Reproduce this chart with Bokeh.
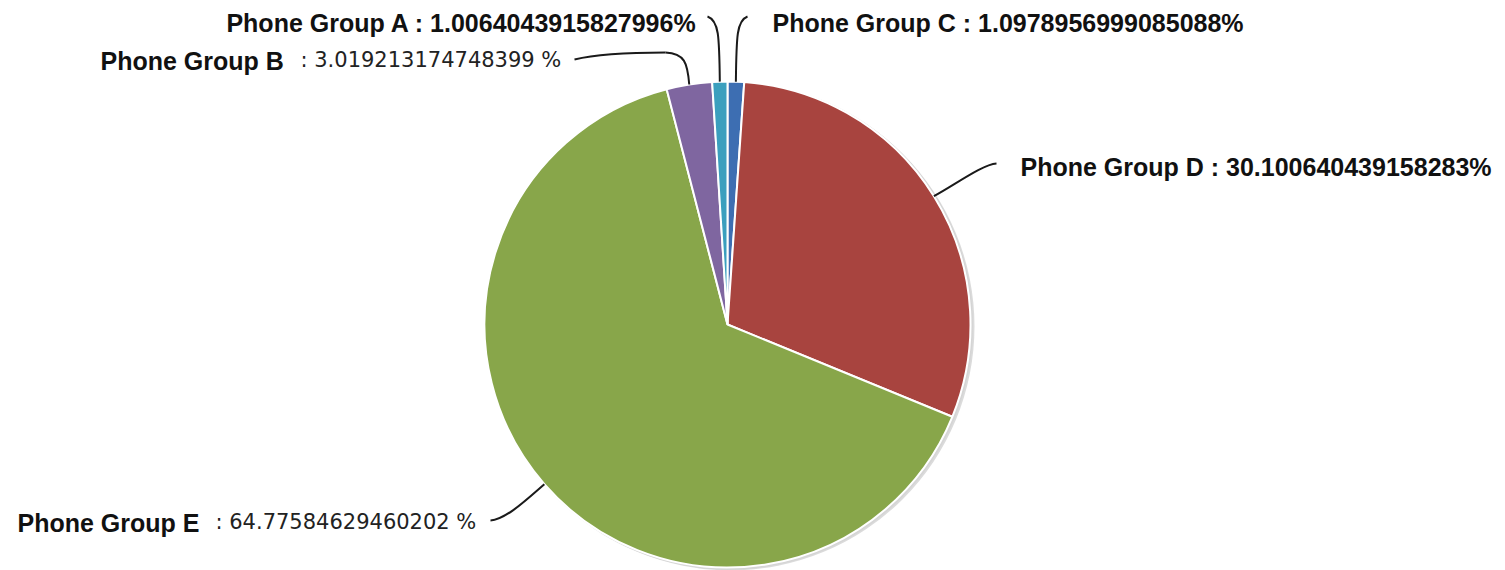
import math
from bokeh.plotting import figure
from bokeh.models import Range1d, ColumnDataSource
from bokeh.core.properties import value
from bokeh.embed import file_html
from bokeh.resources import INLINE

# ---- data (clockwise from 12 o'clock) ----
groups = ["Phone Group C", "Phone Group D", "Phone Group E", "Phone Group B", "Phone Group A"]
percents = [1.0978956999085088, 30.100640439158283, 64.77584629460202, 3.019213174748399, 1.0064043915827996]
colors = ["#3d6eb2", "#a8443f", "#88a64a", "#7f66a0", "#3b9fbe"]

W, H = 1505, 570
CX, CY, R = 727, H - 324, 243

p = figure(width=W, height=H, output_backend="svg", toolbar_location=None,
           x_range=Range1d(0, W), y_range=Range1d(0, H), min_border=0)
p.axis.visible = False
p.grid.visible = False
p.outline_line_color = None
p.background_fill_color = "white"

total = sum(percents)
starts, ends, mids = [], [], []
cum = 0.0
for v in percents:
    a0 = math.pi / 2 - cum / total * 2 * math.pi
    cum += v
    a1 = math.pi / 2 - cum / total * 2 * math.pi
    starts.append(a0)
    ends.append(a1)
    mids.append((a0 + a1) / 2)

src = ColumnDataSource(dict(group=groups, pct=percents, start=starts, end=ends, color=colors,
                            x=[CX] * len(groups), y=[CY] * len(groups)))

# soft shadow
p.circle(x=[CX + 3], y=[CY - 2], radius=R + 1, fill_color="#b0b0b0", fill_alpha=0.45, line_color=None)
p.circle(x=[CX + 1.5], y=[CY - 1], radius=R + 1, fill_color="#d0d0d0", fill_alpha=0.5, line_color=None)

p.wedge(x="x", y="y", radius=R, start_angle="start", end_angle="end", direction="clock",
        fill_color="color", line_color="white", line_width=2, source=src)

def edge(i):
    return CX + R * math.cos(mids[i]), CY + R * math.sin(mids[i])

def Y(y):
    return H - y

leaders = {}
# C (index 0)
x0, y0 = edge(0)
leaders[0] = [((x0, y0), (x0 + 0.5, Y(35)), (x0 + 1, Y(20)), (747, Y(16)))]
# D (index 1)
x0, y0 = edge(1)
leaders[1] = [((x0, y0), (955, Y(184)), (982, Y(164)), (996, Y(163)))]
# E (index 2)
x0, y0 = edge(2)
leaders[2] = [((x0, y0), (525, Y(500)), (505, Y(519)), (490, Y(520)))]
# B (index 3)
x0, y0 = edge(3)
leaders[3] = [((x0, y0), (687, Y(62)), (684, Y(53)), (665, Y(52))),
              ((665, Y(52)), (620, Y(52)), (590, Y(55)), (574, Y(59)))]
# A (index 4)
x0, y0 = edge(4)
leaders[4] = [((x0, y0), (x0 - 0.5, Y(35)), (x0 - 1, Y(20)), (707, Y(16)))]

segs = [s for k in leaders for s in leaders[k]]
p.bezier(x0=[s[0][0] for s in segs], y0=[s[0][1] for s in segs],
         cx0=[s[1][0] for s in segs], cy0=[s[1][1] for s in segs],
         cx1=[s[2][0] for s in segs], cy1=[s[2][1] for s in segs],
         x1=[s[3][0] for s in segs], y1=[s[3][1] for s in segs],
         line_color="#1a1a1a", line_width=2)

BOLD = dict(text_font=value("Liberation Sans"), text_font_style="bold", text_font_size="25px",
            text_color="#111111", text_baseline="alphabetic")
REG = dict(text_font=value("DejaVu Sans"), text_font_style="normal", text_font_size="21px",
           text_color="#222222", text_baseline="alphabetic")

# A: right aligned
p.text(x=[697], y=[Y(22)], text=[f"{groups[4]} : {percents[4]}%"], text_align="right", **BOLD)
# C
p.text(x=[772], y=[Y(22)], text=[f"{groups[0]} : {percents[0]}%"], text_align="left", **BOLD)
# D
p.text(x=[1020], y=[Y(166)], text=[f"{groups[1]} : {percents[1]}%"], text_align="left", **BOLD)
# B
p.text(x=[100], y=[Y(60)], text=[groups[3]], text_align="left", **BOLD)
p.text(x=[300], y=[Y(59)], text=[f": {percents[3]} %"], text_align="left", **REG)
# E
p.text(x=[17], y=[Y(522)], text=[groups[2]], text_align="left", **BOLD)
p.text(x=[215], y=[Y(521)], text=[f": {percents[2]} %"], text_align="left", **REG)

open("out.html", "w").write(file_html(p, INLINE))
